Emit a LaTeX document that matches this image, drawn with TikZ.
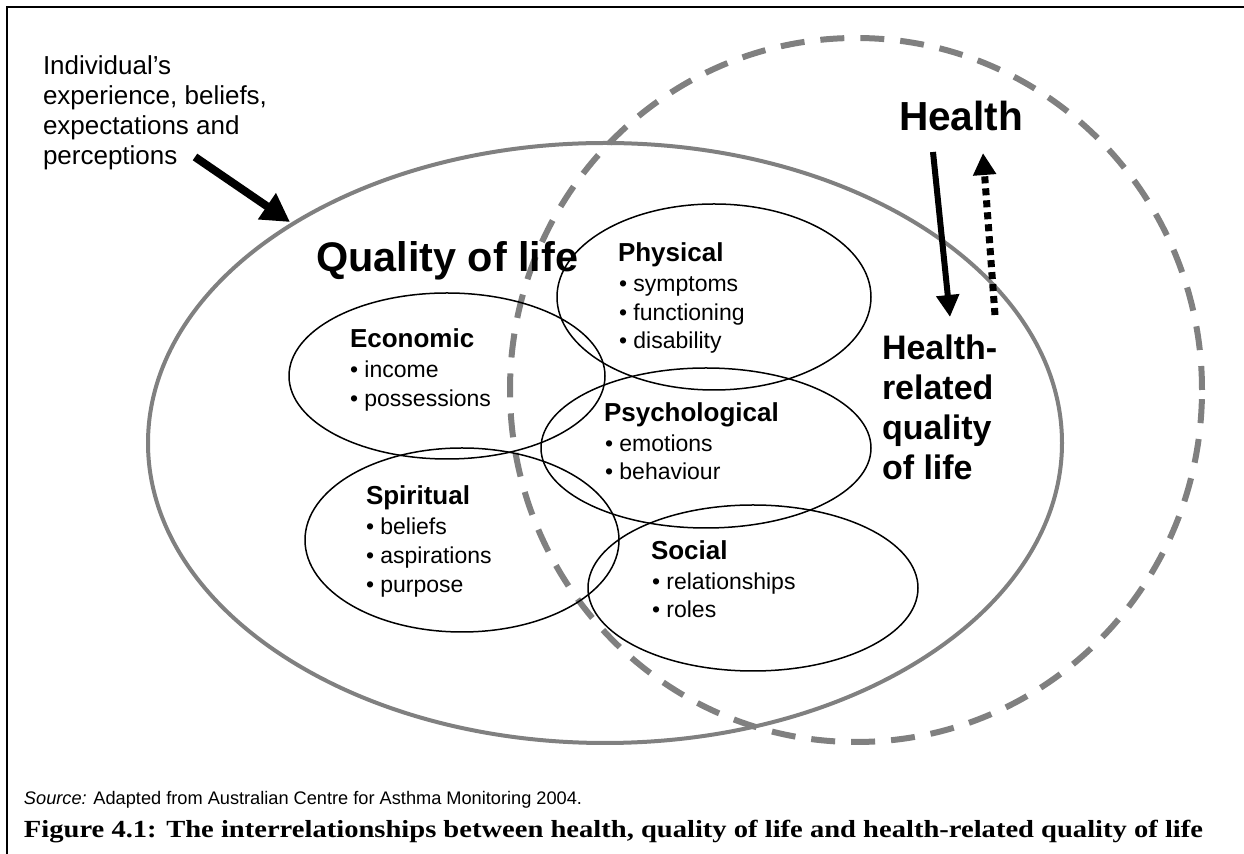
\documentclass[tikz,border=0pt]{standalone}
\usepackage{fontspec}
\setmainfont{Liberation Sans}
\newfontfamily\capfont{Liberation Serif}
\usetikzlibrary{shapes.geometric,arrows.meta}
\begin{document}
\begin{tikzpicture}[x=0.5pt, y=-0.5pt]
\tikzset{ >=latex, inner sep=0pt, outer sep=0pt,
  ring/.style={draw, ellipse, line width=0.75pt},
  head/.style={anchor=base west, font=\fontsize{13}{15}\selectfont\bfseries},
  item/.style={anchor=base west, font=\fontsize{11.5}{14}\selectfont},
  big/.style={anchor=base west, font=\fontsize{17}{20}\selectfont\bfseries},
}
\useasboundingbox (0,0) rectangle (1244,854);
%\draw [lightgray, dashed](0,0) grid[step=50] (1244,854);

% frame
\draw [line width=1pt] (7,854) -- (7,7) -- (1244,7);

% quality of life and health
\node [draw=gray, ellipse, line width=2pt, minimum width=457pt, minimum height=300pt] (QOL) at (605,443) {};
\node [draw=gray, ellipse, line width=3pt, dash pattern=on 12pt off 8pt, minimum width=346pt, minimum height=352pt] (H) at (856,390) {};

% domains
\node [ring, minimum width=157pt, minimum height=93pt] (PHY) at (714,297) {};
\node [ring, minimum width=158pt, minimum height=83pt] (ECO) at (447,376) {};
\node [ring, minimum width=165pt, minimum height=80pt] (PSY) at (706,448) {};
\node [ring, minimum width=157pt, minimum height=92pt] (SPI) at (462,540) {};
\node [ring, minimum width=165pt, minimum height=83pt] (SOC) at (753,588) {};

\node [head] (phy0) at (618,262) {Physical};
\node [item] (phy1) at (619,292) {• symptoms};
\node [item] (phy2) at (619,321) {• functioning};
\node [item] (phy3) at (619,349) {• disability};

\node [head] (eco0) at (350,348) {Economic};
\node [item] (eco1) at (350,378) {• income};
\node [item] (eco2) at (350,407) {• possessions};

\node [head] (psy0) at (604,422) {Psychological};
\node [item] (psy1) at (605,452) {• emotions};
\node [item] (psy2) at (605,480) {• behaviour};

\node [head] (spi0) at (366,505) {Spiritual};
\node [item] (spi1) at (366,535) {• beliefs};
\node [item] (spi2) at (366,564) {• aspirations};
\node [item] (spi3) at (366,593) {• purpose};

\node [head] (soc0) at (651,560) {Social};
\node [item] (soc1) at (652,590) {• relationships};
\node [item] (soc2) at (652,618) {• roles};

% titles
\node [anchor=base west, font=\fontsize{20.7}{24}\selectfont\bfseries] (qtitle) at (316,272) {Quality of life};
\node [anchor=base west, font=\fontsize{20.3}{24}\selectfont\bfseries] (htitle) at (899,131) {Health};
\node [big] (hr1) at (882,360) {Health-};
\node [big] (hr2) at (882,400) {related};
\node [big] (hr3) at (882,440) {quality};
\node [big] (hr4) at (882,480) {of life};

\node [anchor=base west, font=\fontsize{13}{15}\selectfont] (ind1) at (43,75) {Individual’s};
\node [anchor=base west, font=\fontsize{13}{15}\selectfont] (ind2) at (43,105) {experience, beliefs,};
\node [anchor=base west, font=\fontsize{13}{15}\selectfont] (ind3) at (43,135) {expectations and};
\node [anchor=base west, font=\fontsize{13}{15}\selectfont] (ind4) at (43,165) {perceptions};

% arrows
\coordinate (A1) at (195,157);
\coordinate (A2) at (290,222);
\coordinate (D1) at (933,152);
\coordinate (D2) at (950,317);
\coordinate (U1) at (995,315);
\coordinate (U2) at (983,153);
\draw [line width=4pt, -{Triangle[length=14pt, width=15pt]}] (A1) -- (A2);
\draw [line width=3pt, -{Triangle[length=11pt, width=11pt]}] (D1) -- (D2);
\draw [line width=3.5pt, dash pattern=on 3.5pt off 2.5pt, -{Triangle[length=11pt, width=11pt]}] (U1) -- (U2);

% source and caption
\node [anchor=base west, font=\fontsize{9.1}{10}\selectfont] (src) at (24,805) {\textit{Source:} Adapted from Australian Centre for Asthma Monitoring 2004.};
\node [anchor=base west, font=\capfont\fontsize{12.3}{14}\selectfont\bfseries] (cap) at (24,838) {\resizebox{589.5pt}{\height}{Figure 4.1: The interrelationships between health, quality of life and health-related quality of life}};

\end{tikzpicture}
\end{document}
